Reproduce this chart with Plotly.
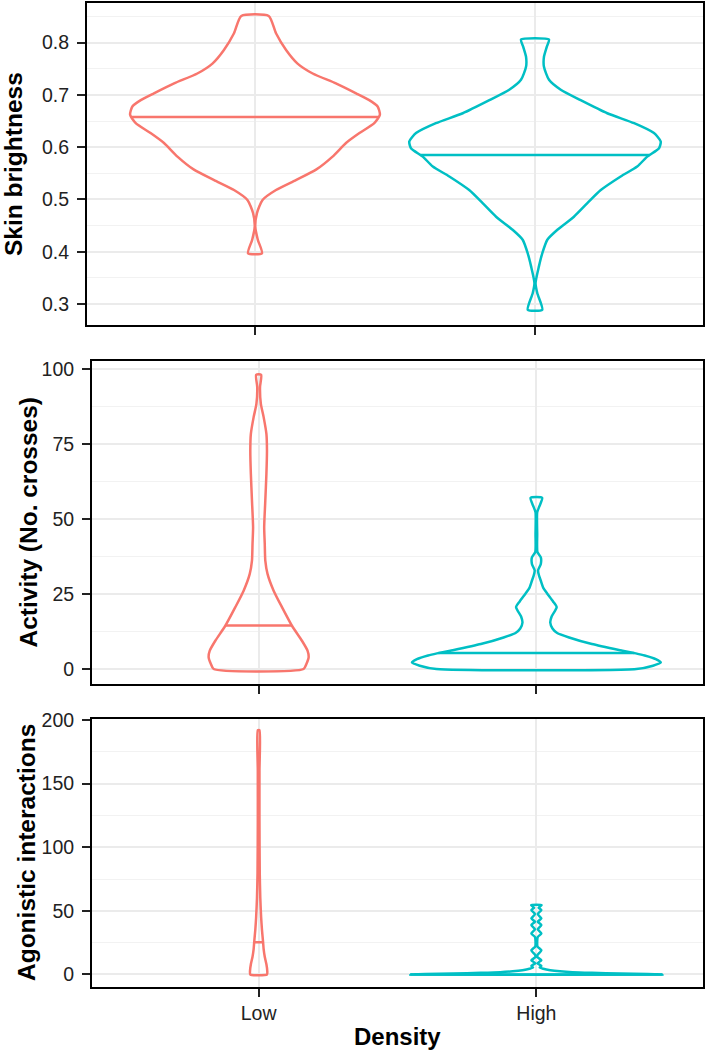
import numpy as np
import plotly.graph_objects as go

# ---------------- data ----------------
categories = ["Low", "High"]
cat_pos = [1, 2]
colors = ["#F8766D", "#00BFC4"]

# Panel 1: Skin brightness  (value, half-width of violin in category units)
skin_low_y = [0.397, 0.423, 0.448, 0.474, 0.499, 0.518, 0.537, 0.557, 0.582, 0.608, 0.627,
              0.646, 0.662, 0.678, 0.690, 0.703, 0.722, 0.741, 0.760, 0.786, 0.818, 0.851]
skin_low_w = [0.025, 0.010, 0.001, 0.007, 0.027, 0.075, 0.146, 0.218, 0.277, 0.325, 0.373,
              0.426, 0.446, 0.438, 0.408, 0.361, 0.289, 0.206, 0.152, 0.111, 0.075, 0.049]
skin_high_y = [0.289, 0.321, 0.340, 0.372, 0.397, 0.423, 0.442, 0.467, 0.493, 0.518, 0.544,
               0.563, 0.582, 0.598, 0.611, 0.627, 0.646, 0.665, 0.690, 0.710, 0.729, 0.754,
               0.773, 0.792, 0.806]
skin_high_w = [0.026, 0.008, 0.002, 0.014, 0.026, 0.044, 0.080, 0.139, 0.187, 0.235, 0.306,
               0.365, 0.401, 0.443, 0.449, 0.425, 0.354, 0.258, 0.163, 0.092, 0.050, 0.032,
               0.032, 0.042, 0.050]
skin_median = [0.658, 0.585]

# Panel 2: Activity (No. crosses)
act_low_y = [0, 1.7, 3.9, 6.1, 9.4, 14.4, 20.6, 26.1, 31.7, 36.1, 41.7, 47.2, 56.1, 65.0,
             72.8, 78.3, 83.9, 88.3, 93.9, 98.0]
act_low_w = [0.162, 0.172, 0.180, 0.176, 0.156, 0.120, 0.084, 0.054, 0.032, 0.024, 0.022,
             0.020, 0.024, 0.028, 0.030, 0.028, 0.018, 0.008, 0.005, 0.009]
act_high_y = [0, 1.1, 2.2, 3.3, 4.5, 5.2, 6.1, 8.3, 10.5, 12.0, 13.5, 15.5, 17.5, 20.6,
              22.5, 25.0, 27.0, 29.4, 31.0, 32.8, 35.0, 37.2, 38.9, 45.0, 52.2, 54.0, 57.0]
act_high_w = [0.360, 0.420, 0.448, 0.430, 0.390, 0.358, 0.310, 0.200, 0.118, 0.075, 0.058,
              0.050, 0.055, 0.073, 0.060, 0.040, 0.025, 0.016, 0.010, 0.006, 0.016, 0.016,
              0.004, 0.003, 0.003, 0.010, 0.021]
act_median = [14.5, 5.3]

# Panel 3: Agonistic interactions
ago_low_y = [0, 3, 8, 14, 20, 25.4, 35, 45, 60, 80, 120, 160, 192]
ago_low_w = [0.030, 0.031, 0.028, 0.022, 0.018, 0.016, 0.012, 0.009, 0.006, 0.004, 0.003,
             0.003, 0.003]
ago_high_y = [0, 0.4, 0.8, 1.3, 1.8, 2.5, 3.4, 4.5, 5.5, 6.8, 8.9, 11.2, 13.5, 15.2, 19.1,
              22.0, 26.0, 29.5, 32.2, 35.5, 38.8, 41.5, 44.0, 47.5, 50.6, 52.5, 54.5]
ago_high_w = [0.454, 0.400, 0.300, 0.200, 0.130, 0.085, 0.050, 0.025, 0.012, 0.018, 0.004,
              0.018, 0.004, 0.004, 0.018, 0.004, 0.003, 0.005, 0.018, 0.005, 0.018, 0.005,
              0.018, 0.005, 0.018, 0.008, 0.019]
ago_median = [25.4, 0.0]

panels = [
    dict(title="Skin brightness", groups=[(skin_low_y, skin_low_w), (skin_high_y, skin_high_w)],
         medians=skin_median, rng=[0.2598, 0.8759],
         major=[0.3, 0.4, 0.5, 0.6, 0.7, 0.8], labels=["0.3", "0.4", "0.5", "0.6", "0.7", "0.8"],
         minor=[0.35, 0.45, 0.55, 0.65, 0.75, 0.85]),
    dict(title="Activity (No. crosses)", groups=[(act_low_y, act_low_w), (act_high_y, act_high_w)],
         medians=act_median, rng=[-5.0, 102.6],
         major=[0, 25, 50, 75, 100], labels=["0", "25", "50", "75", "100"],
         minor=[12.5, 37.5, 62.5, 87.5]),
    dict(title="Agonistic interactions", groups=[(ago_low_y, ago_low_w), (ago_high_y, ago_high_w)],
         medians=ago_median, rng=[-9.6, 200.5],
         major=[0, 50, 100, 150, 200], labels=["0", "50", "100", "150", "200"],
         minor=[25, 75, 125, 175]),
]

# ---------------- layout geometry ----------------
W, H = 709, 1053
xdoms = [[87 / W, 703 / W], [92 / W, 703 / W], [92 / W, 703 / W]]
ydoms = [[1 - 325 / H, 1 - 3 / H], [1 - 684 / H, 1 - 361 / H], [1 - 986.7 / H, 1 - 719.3 / H]]
title_x = [14, 28, 26]

fig = go.Figure()
FONT = "Liberation Sans, Arial, sans-serif"
TICKC = "#222222"

for i, p in enumerate(panels):
    xa = "x" if i == 0 else f"x{i+1}"
    ya = "y" if i == 0 else f"y{i+1}"
    for g, (yy, ww) in enumerate(p["groups"]):
        c = cat_pos[g]
        yy = np.asarray(yy, float)
        ww = np.asarray(ww, float)
        xs = np.concatenate([c - ww, (c + ww)[::-1], [c - ww[0]]])
        ys = np.concatenate([yy, yy[::-1], [yy[0]]])
        fig.add_trace(go.Scatter(x=xs, y=ys, mode="lines", xaxis=xa, yaxis=ya,
                                 line=dict(color=colors[g], width=2.5, shape="spline", smoothing=0.6),
                                 showlegend=False, hoverinfo="skip"))
        m = p["medians"][g]
        hw = float(np.interp(m, yy, ww))
        fig.add_trace(go.Scatter(x=[c - hw, c + hw], y=[m, m], mode="lines", xaxis=xa, yaxis=ya,
                                 line=dict(color=colors[g], width=2.5),
                                 showlegend=False, hoverinfo="skip"))

    axis_common = dict(showline=True, linecolor="black", linewidth=2, mirror=True,
                       ticks="outside", ticklen=8, tickwidth=2, tickcolor="#222222",
                       zeroline=False, showgrid=True, gridcolor="#EBEBEB", gridwidth=1.6,
                       tickfont=dict(family=FONT, size=19.5, color=TICKC), automargin=False)
    xkey = "xaxis" if i == 0 else f"xaxis{i+1}"
    ykey = "yaxis" if i == 0 else f"yaxis{i+1}"
    fig.update_layout({
        xkey: dict(axis_common, domain=xdoms[i], range=[0.4, 2.6], anchor=ya,
                   tickmode="array", tickvals=cat_pos,
                   ticktext=categories if i == 2 else ["", ""]),
        ykey: dict(axis_common, domain=ydoms[i], range=p["rng"], anchor=xa,
                   tickmode="array", tickvals=p["major"], ticktext=p["labels"],
                   ticklabelstandoff=4,
                   minor=dict(tickvals=p["minor"], showgrid=True, gridcolor="#F2F2F2",
                              gridwidth=1, ticks="")),
    })
    fig.add_annotation(text=f"<b>{p['title']}</b>", xref="paper", yref="paper",
                       x=title_x[i] / W, y=(ydoms[i][0] + ydoms[i][1]) / 2,
                       xanchor="center", yanchor="middle", textangle=-90, showarrow=False,
                       font=dict(family=FONT, size=24.5, color="black"))

fig.add_annotation(text="<b>Density</b>", xref="paper", yref="paper",
                   x=(92 + 703) / 2 / W, y=1 - 1036 / H, xanchor="center", yanchor="middle",
                   showarrow=False, font=dict(family=FONT, size=24, color="black"))

fig.update_layout(width=W, height=H, margin=dict(l=0, r=0, t=0, b=0),
                  paper_bgcolor="white", plot_bgcolor="white")

fig.write_html("out.html", config={"displayModeBar": False},
               post_script="document.body.style.margin='0';document.body.style.padding='0';")
